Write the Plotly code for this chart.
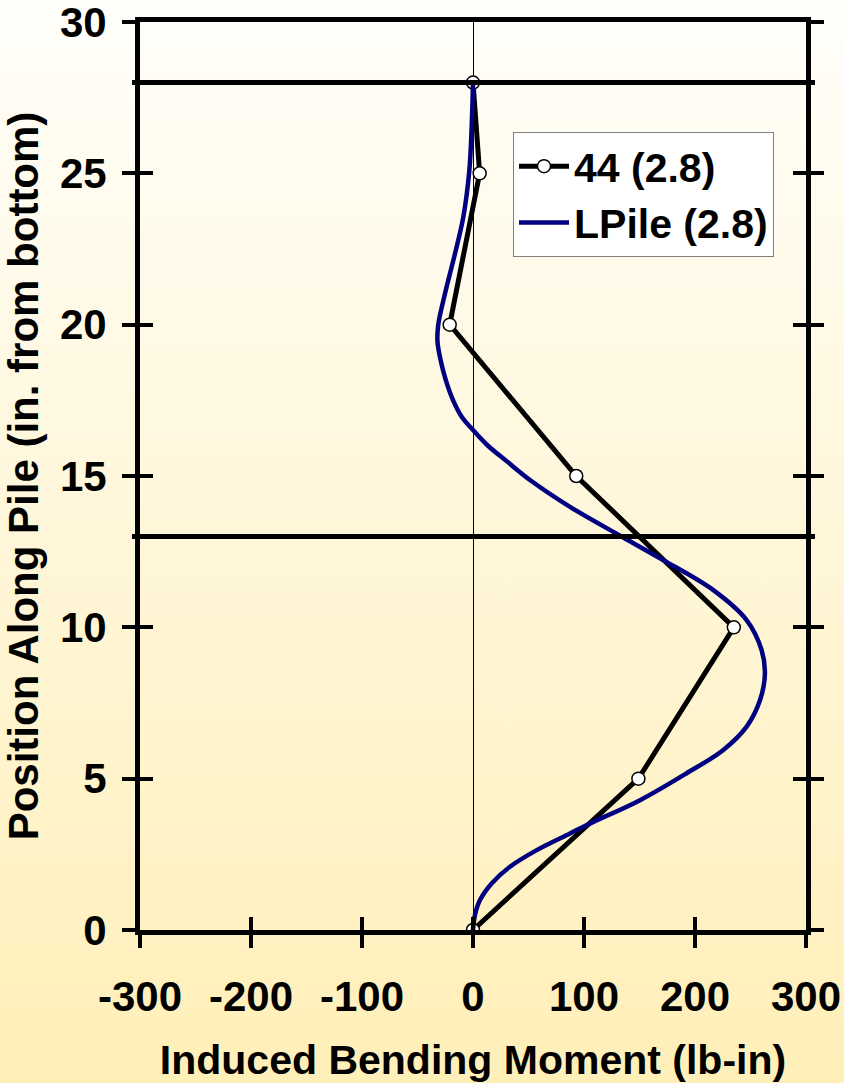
import base64
import plotly.graph_objects as go

# ---- data ----
test_y = [0, 5, 10, 15, 20, 25, 28]
test_moment = [0, 149, 235, 93, -21, 6, 0]

lpile_y = [0, 0.5, 0.99, 1.54, 2.09, 2.64, 3.19, 3.52, 4.29, 5.18, 5.95, 6.72, 7.6,
           8.48, 9.25, 10.24, 11.23, 12.28, 12.97, 13.98, 14.85, 15.5, 16.0, 16.52,
           16.96, 17.51, 18.17, 18.8, 19.45, 20.0, 21.03, 22.35, 23.56, 25.1, 26.54, 28]
lpile_moment = [0, 1.8, 6.3, 16.8, 33.3, 57.4, 87.4, 105.4, 150.5, 192.5, 225.5, 246.5,
                258.6, 263, 260, 246.5, 216.5, 168.5, 135.4, 87.4, 52, 30, 13.5, 0,
                -10.2, -18, -24.5, -29, -32, -31.3, -25.2, -16.2, -8.7, -3.3, -1.2, 0]

ref_depths = [13, 28]
x_ticks = [-300, -200, -100, 0, 100, 200, 300]
x_tick_text = ["-300", "-200", "-100", "0", "100", "200", "300"]
y_ticks = [0, 5, 10, 15, 20, 25, 30]
series_names = ["44 (2.8)", "LPile (2.8)"]

# ---- layout constants ----
W, H = 844, 1083
ML, MR, MT, MB = 140, 38, 22, 153
PW, PH = W - ML - MR, H - MT - MB
FONT = "Liberation Sans, Arial, sans-serif"

fig = go.Figure()
fig.add_trace(go.Scatter(
    x=test_moment, y=test_y, name=series_names[0], mode="lines+markers",
    line=dict(color="black", width=5),
    marker=dict(symbol="circle", size=13, color="white",
                line=dict(color="black", width=1.5)),
))
fig.add_trace(go.Scatter(
    x=lpile_moment, y=lpile_y, name=series_names[1], mode="lines",
    line=dict(color="#000080", width=4.5, shape="spline", smoothing=1.0),
))
# invisible helper trace for the overlaid tick axes
fig.add_trace(go.Scatter(x=[None], y=[None], xaxis="x2", yaxis="y2",
                         showlegend=False, hoverinfo="skip"))

for d in ref_depths:
    fig.add_shape(type="line", xref="x domain", yref="y",
                  x0=-8 / PW, x1=1 + 9 / PW, y0=d, y1=d,
                  line=dict(color="black", width=5), layer="above")

svg = (f'<svg xmlns="http://www.w3.org/2000/svg" width="{W}" height="{H}" '
       f'preserveAspectRatio="none"><defs><linearGradient id="g" x1="0" y1="0" '
       f'x2="0" y2="1"><stop offset="0" stop-color="#FFFEFA"/>'
       f'<stop offset="1" stop-color="#FFEFB8"/></linearGradient></defs>'
       f'<rect width="{W}" height="{H}" fill="url(#g)"/></svg>')
src = "data:image/svg+xml;base64," + base64.b64encode(svg.encode()).decode()
fig.add_layout_image(dict(source=src, xref="paper", yref="paper",
                          x=-ML / PW, y=1 + MT / PH, sizex=W / PW, sizey=H / PH,
                          xanchor="left", yanchor="top", sizing="stretch",
                          layer="below"))

tickfont = dict(family=FONT, size=42, color="black", weight="bold")
common = dict(showgrid=False, tickcolor="black", ticklen=13, tickwidth=3.5,
              linecolor="black", linewidth=5, automargin=False,
              ticklabeloverflow="allow")

fig.update_layout(
    width=W, height=H,
    margin=dict(l=ML, r=MR, t=MT, b=MB, pad=0, autoexpand=False),
    paper_bgcolor="#FFF7DC",
    plot_bgcolor="rgba(0,0,0,0)",
    font=dict(family=FONT, color="black"),
    xaxis=dict(range=[-300, 300], tickvals=x_ticks, ticktext=x_tick_text,
               ticks="outside", showline=True, mirror=True, zeroline=True,
               zerolinewidth=1, zerolinecolor="black", tickfont=tickfont,
               ticklabelstandoff=13,
               title=dict(text="Induced Bending Moment (lb-in)",
                          font=dict(family=FONT, size=41, weight="bold"),
                          standoff=28),
               **common),
    xaxis2=dict(range=[-300, 300], tickvals=x_ticks, ticks="inside",
                overlaying="x", anchor="y", side="bottom", showline=False,
                showticklabels=False, zeroline=False, **common),
    yaxis=dict(range=[0, 30], tickvals=y_ticks, ticks="outside",
               showline=True, mirror="ticks", zeroline=False,
               tickfont=tickfont, ticklabelstandoff=7,
               title=dict(text="Position Along Pile (in. from bottom)",
                          font=dict(family=FONT, size=42, weight="bold"),
                          standoff=20),
               **common),
    yaxis2=dict(range=[0, 30], tickvals=y_ticks, ticks="inside",
                overlaying="y", anchor="x", side="left", showline=True,
                mirror="ticks", showticklabels=False, zeroline=False, **common),
    legend=dict(x=(513 - ML) / PW, y=(H - MB - 132) / PH, xanchor="left",
                yanchor="top", bgcolor="white", bordercolor="#808080",
                borderwidth=1, itemwidth=50, tracegroupgap=0,
                font=dict(family=FONT, size=41, color="black", weight="bold")),
    showlegend=True,
)

fig.write_html("out.html", config={"displayModeBar": False},
               post_script="document.body.style.margin='0';")
